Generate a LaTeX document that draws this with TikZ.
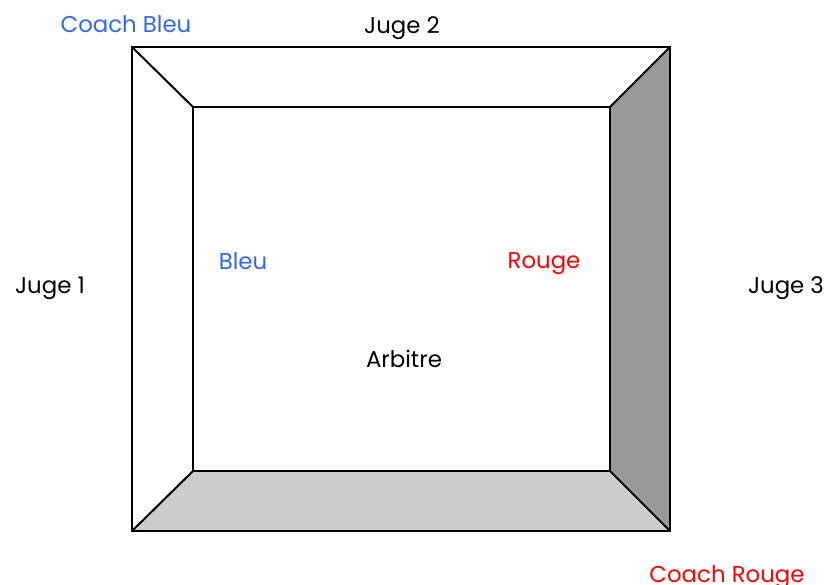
\documentclass[tikz,border=0pt]{standalone}
\usepackage{fontspec}
\setmainfont{Poppins}
\definecolor{bluetxt}{RGB}{51,102,255}
\definecolor{redtxt}{RGB}{255,0,0}
\definecolor{sidegray}{RGB}{153,153,153}
\definecolor{bottomgray}{RGB}{204,204,204}
\begin{document}
\begin{tikzpicture}[x=0.03cm,y=-0.03cm,
  lbl/.style={inner sep=0pt,anchor=base,font=\fontsize{19.5}{23}\selectfont},
  edge/.style={draw=black,line width=1.7pt,line join=miter}]
\useasboundingbox (0,0) rectangle (832,585);
% corners
\coordinate (O1) at (132,47);
\coordinate (O2) at (670,47);
\coordinate (O3) at (670,531);
\coordinate (O4) at (132,531);
\coordinate (I1) at (193,107);
\coordinate (I2) at (610,107);
\coordinate (I3) at (610,471);
\coordinate (I4) at (193,471);
% faces
\path[fill=white] (O1) -- (O2) -- (I2) -- (I1) -- cycle;
\path[fill=white] (O1) -- (I1) -- (I4) -- (O4) -- cycle;
\path[fill=sidegray] (O2) -- (O3) -- (I3) -- (I2) -- cycle;
\path[fill=bottomgray] (O4) -- (I4) -- (I3) -- (O3) -- cycle;
% edges
\draw[edge] (O1) -- (O2) -- (O3) -- (O4) -- cycle;
\draw[edge] (I1) -- (I2) -- (I3) -- (I4) -- cycle;
\draw[edge] (O1) -- (I1);
\draw[edge] (O2) -- (I2);
\draw[edge] (O3) -- (I3);
\draw[edge] (O4) -- (I4);
% labels
\node[lbl,text=bluetxt] (coachbleu) at (126,32) {Coach Bleu};
\node[lbl] (juge2) at (402,33) {Juge 2};
\node[lbl] (juge1) at (50,293) {Juge 1};
\node[lbl] (juge3) at (786,293) {Juge 3};
\node[lbl,text=bluetxt] (bleu) at (243,269) {Bleu};
\node[lbl,text=redtxt] (rouge) at (544,268) {Rouge};
\node[lbl] (arbitre) at (404,367) {Arbitre};
\node[lbl,text=redtxt] (coachrouge) at (727,582) {Coach Rouge};
\end{tikzpicture}
\end{document}
